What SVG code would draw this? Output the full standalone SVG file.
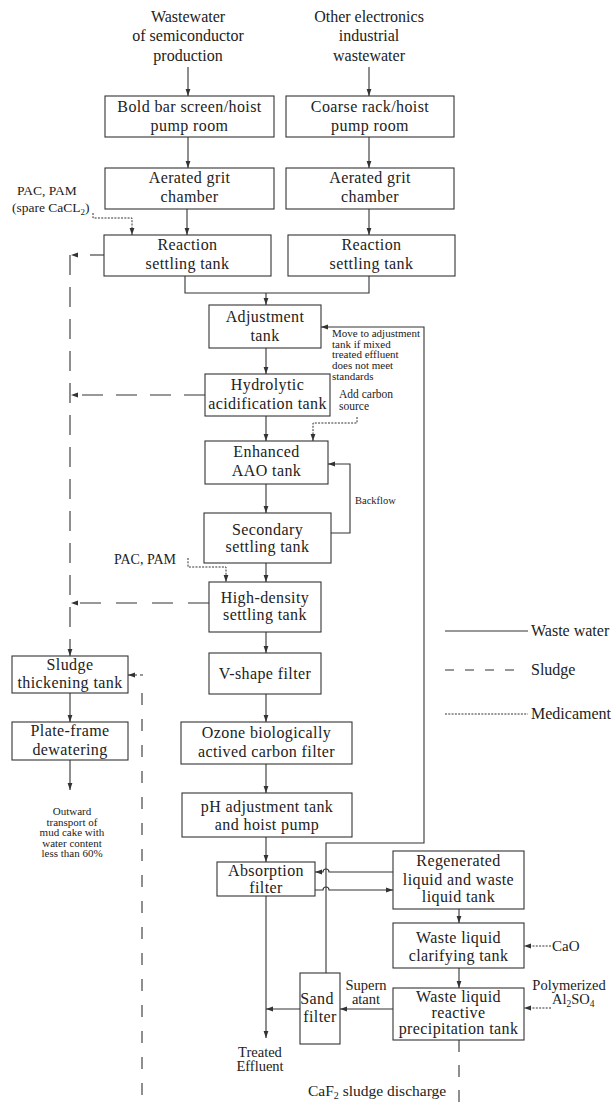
<svg xmlns="http://www.w3.org/2000/svg" width="612" height="1104" viewBox="0 0 612 1104">
<style>
text{font-family:"Liberation Serif","Times New Roman",serif;fill:#222}
.b{font-size:16px;letter-spacing:0.4px;text-anchor:middle}
.t{font-size:16px;text-anchor:middle}
.t2{font-size:14.5px;text-anchor:middle}
.s{font-size:11px}
.box{fill:#fff;stroke:#333;stroke-width:1.1}
.w{fill:none;stroke:#333;stroke-width:1.1}
.sl{fill:none;stroke:#333;stroke-width:1.1}
.m{fill:none;stroke:#333;stroke-width:1;stroke-dasharray:2 1.3}
</style>
<defs>
<marker id="ah" markerWidth="8" markerHeight="6" refX="7" refY="3" orient="auto" markerUnits="userSpaceOnUse">
<path d="M0,0.6 L7,3 L0,5.4z" fill="#333"/>
</marker>
</defs>

<g id="sources">
<text class="t" x="188" y="22">Wastewater</text>
<text class="t" x="188" y="41">of semiconductor</text>
<text class="t" x="188" y="61">production</text>
<text class="t" x="369" y="22">Other electronics</text>
<text class="t" x="369" y="41">industrial</text>
<text class="t" x="369" y="61">wastewater</text>
</g>

<g id="bar-screen"><rect class="box" x="105" y="96" width="169" height="41"/><text class="b" x="189.5" y="112">Bold bar screen/hoist</text><text class="b" x="189.5" y="131">pump room</text></g>
<g id="coarse-rack"><rect class="box" x="286" y="96" width="168" height="41"/><text class="b" x="370" y="112">Coarse rack/hoist</text><text class="b" x="370" y="131">pump room</text></g>
<g id="grit-1"><rect class="box" x="105" y="168" width="169" height="41"/><text class="b" x="189.5" y="183">Aerated grit</text><text class="b" x="189.5" y="202">chamber</text></g>
<g id="grit-2"><rect class="box" x="286" y="168" width="168" height="41"/><text class="b" x="370" y="183">Aerated grit</text><text class="b" x="370" y="202">chamber</text></g>
<g id="reaction-1"><rect class="box" x="104" y="235" width="167" height="41"/><text class="b" x="187.5" y="250">Reaction</text><text class="b" x="187.5" y="269">settling tank</text></g>
<g id="reaction-2"><rect class="box" x="288" y="235" width="167" height="41"/><text class="b" x="371.5" y="250">Reaction</text><text class="b" x="371.5" y="269">settling tank</text></g>
<g id="adjustment"><rect class="box" x="209" y="305" width="112" height="43"/><text class="b" x="265" y="322">Adjustment</text><text class="b" x="265" y="341">tank</text></g>
<g id="hydrolytic"><rect class="box" x="205" y="374" width="125" height="42"/><text class="b" x="267.5" y="390">Hydrolytic</text><text class="b" x="267.5" y="409">acidification tank</text></g>
<g id="aao"><rect class="box" x="205" y="441" width="123" height="43"/><text class="b" x="266.5" y="457">Enhanced</text><text class="b" x="266.5" y="476">AAO tank</text></g>
<g id="secondary"><rect class="box" x="204" y="513" width="127" height="50"/><text class="b" x="267.5" y="535">Secondary</text><text class="b" x="267.5" y="552">settling tank</text></g>
<g id="high-density"><rect class="box" x="209" y="582" width="112" height="50"/><text class="b" x="265" y="603">High-density</text><text class="b" x="265" y="620">settling tank</text></g>
<g id="v-filter"><rect class="box" x="209" y="653" width="112" height="41"/><text class="b" x="265" y="679">V-shape filter</text></g>
<g id="ozone"><rect class="box" x="181" y="722" width="171" height="42"/><text class="b" x="266.5" y="738">Ozone biologically</text><text class="b" x="266.5" y="757">actived carbon filter</text></g>
<g id="ph"><rect class="box" x="182" y="793" width="170" height="44"/><text class="b" x="267" y="812">pH adjustment tank</text><text class="b" x="267" y="830">and hoist pump</text></g>
<g id="absorption"><rect class="box" x="217" y="862" width="98" height="34"/><text class="b" x="266" y="876">Absorption</text><text class="b" x="266" y="893">filter</text></g>
<g id="regenerated"><rect class="box" x="393" y="851" width="131" height="58"/><text class="b" x="458.5" y="866">Regenerated</text><text class="b" x="458.5" y="885">liquid and waste</text><text class="b" x="458.5" y="902">liquid tank</text></g>
<g id="clarifying"><rect class="box" x="393" y="923" width="131" height="45"/><text class="b" x="458.5" y="943">Waste liquid</text><text class="b" x="458.5" y="961">clarifying tank</text></g>
<g id="precipitation"><rect class="box" x="393" y="988" width="131" height="52"/><text class="b" x="458.5" y="1002">Waste liquid</text><text class="b" x="458.5" y="1018">reactive</text><text class="b" x="458.5" y="1034">precipitation tank</text></g>
<g id="sand"><rect class="box" x="300" y="973" width="40" height="71"/><text class="b" x="317" y="1004">Sand</text><text class="b" x="320" y="1022">filter</text></g>
<g id="thickening"><rect class="box" x="12" y="656" width="116" height="37"/><text class="b" x="70" y="670">Sludge</text><text class="b" x="70" y="688">thickening tank</text></g>
<g id="plate-frame"><rect class="box" x="12" y="722" width="116" height="38"/><text class="b" x="70" y="736">Plate-frame</text><text class="b" x="70" y="755">dewatering</text></g>

<g id="labels">
<text style="font-size:13.5px" x="17" y="195">PAC,  PAM</text>
<text style="font-size:13.5px" x="12" y="212">(spare CaCL<tspan font-size="9" dy="3">2</tspan><tspan dy="-3">)</tspan></text>
<text class="s" x="332" y="337">Move to adjustment</text>
<text class="s" x="332" y="348">tank if mixed</text>
<text class="s" x="332" y="358">treated effluent</text>
<text class="s" x="332" y="369">does not meet</text>
<text class="s" x="332" y="380">standards</text>
<text style="font-size:11.5px" x="339" y="398">Add carbon</text>
<text style="font-size:11.5px" x="339" y="410">source</text>
<text style="font-size:10.5px" x="355" y="504">Backflow</text>
<text style="font-size:14px" x="114" y="564">PAC, PAM</text>
<text style="font-size:11px;text-anchor:middle" x="72" y="815">Outward</text>
<text style="font-size:11px;text-anchor:middle" x="72" y="825.5">transport of</text>
<text style="font-size:11px;text-anchor:middle" x="72" y="836">mud cake with</text>
<text style="font-size:11px;text-anchor:middle" x="72" y="846.5">water content</text>
<text style="font-size:11px;text-anchor:middle" x="72" y="857">less than 60%</text>
<text class="t2" x="260" y="1057">Treated</text>
<text class="t2" x="260" y="1071">Effluent</text>
<text class="t2" x="366" y="990">Supern</text>
<text class="t2" x="366" y="1004">atant</text>
<text style="font-size:15px" x="552" y="951">CaO</text>
<text class="t2" x="569" y="990">Polymerized</text>
<text style="font-size:14.5px" x="552" y="1004">Al<tspan font-size="9.5" dy="2.5">2</tspan><tspan dy="-2.5">SO</tspan><tspan font-size="9.5" dy="2.5">4</tspan></text>
<text style="font-size:15.5px" x="308" y="1096">CaF<tspan font-size="10" dy="3">2</tspan><tspan dy="-3"> sludge discharge</tspan></text>
</g>

<g id="connectors">
<path class="w" d="M188,67 V96" marker-end="url(#ah)"/>
<path class="w" d="M369,67 V96" marker-end="url(#ah)"/>
<path class="w" d="M188,137 V168" marker-end="url(#ah)"/>
<path class="w" d="M369,137 V168" marker-end="url(#ah)"/>
<path class="w" d="M187,209 V235" marker-end="url(#ah)"/>
<path class="w" d="M369,209 V235" marker-end="url(#ah)"/>
<path class="w" d="M185,276 V293 H369 V276"/>
<path class="w" d="M266,293 V305" marker-end="url(#ah)"/>
<path class="w" d="M266,348 V374" marker-end="url(#ah)"/>
<path class="w" d="M266,416 V441" marker-end="url(#ah)"/>
<path class="w" d="M266,484 V513" marker-end="url(#ah)"/>
<path class="w" d="M266,563 V582" marker-end="url(#ah)"/>
<path class="w" d="M266,632 V653" marker-end="url(#ah)"/>
<path class="w" d="M266,694 V722" marker-end="url(#ah)"/>
<path class="w" d="M266,764 V793" marker-end="url(#ah)"/>
<path class="w" d="M266,837 V862" marker-end="url(#ah)"/>
<path class="w" d="M266,896 V1038" marker-end="url(#ah)"/>
<path class="w" d="M331,533 H350 V464 H328" marker-end="url(#ah)"/>
<path class="w" d="M326,973 V843 H424 V327 H321" marker-end="url(#ah)"/>
<path class="w" d="M393,872 H329 A3,3 0 0 0 323,872 H315" marker-end="url(#ah)"/>
<path class="w" d="M315,890 H323 A3,3 0 0 1 329,890 H393" marker-end="url(#ah)"/>
<path class="w" d="M459,909 V923" marker-end="url(#ah)"/>
<path class="w" d="M459,968 V988" marker-end="url(#ah)"/>
<path class="w" d="M393,1009 H340" marker-end="url(#ah)"/>
<path class="w" d="M300,1009 H266" marker-end="url(#ah)"/>
<path class="w" d="M70,693 V722" marker-end="url(#ah)"/>
<path class="w" d="M70,760 V790" marker-end="url(#ah)"/>
<path class="sl" d="M104,255 H71" stroke-dasharray="14 19" marker-end="url(#ah)"/>
<path class="sl" d="M70,255 V656" stroke-dasharray="20 12" marker-end="url(#ah)"/>
<path class="sl" d="M205,395 H71" stroke-dasharray="21 13" marker-end="url(#ah)"/>
<path class="sl" d="M209,603 H71" stroke-dasharray="21 15" marker-end="url(#ah)"/>
<path class="sl" d="M142,1095 V693" stroke-dasharray="12 14"/>
<path class="sl" d="M143,675 H128" stroke-dasharray="3 3" marker-end="url(#ah)"/>
<path class="sl" d="M459,1040 V1104" stroke-dasharray="12 13"/>
<path class="m" d="M93,213 V218 H132 V235" marker-end="url(#ah)"/>
<path class="m" d="M357,417 V423 H313 V441" marker-end="url(#ah)"/>
<path class="m" d="M188,558 V567 H226 V582" marker-end="url(#ah)"/>
<path class="m" d="M551,946 H524" marker-end="url(#ah)"/>
<path class="m" d="M551,1008 H524" marker-end="url(#ah)"/>
</g>

<g id="legend">
<path class="w" d="M445,631 H528"/>
<path class="sl" d="M445,670 H520" stroke-dasharray="9 11"/>
<path class="m" d="M445,714 H528"/>
<text style="font-size:16px" x="531" y="636">Waste water</text>
<text style="font-size:16px" x="531" y="675">Sludge</text>
<text style="font-size:16px" x="531" y="719">Medicament</text>
</g>
</svg>
